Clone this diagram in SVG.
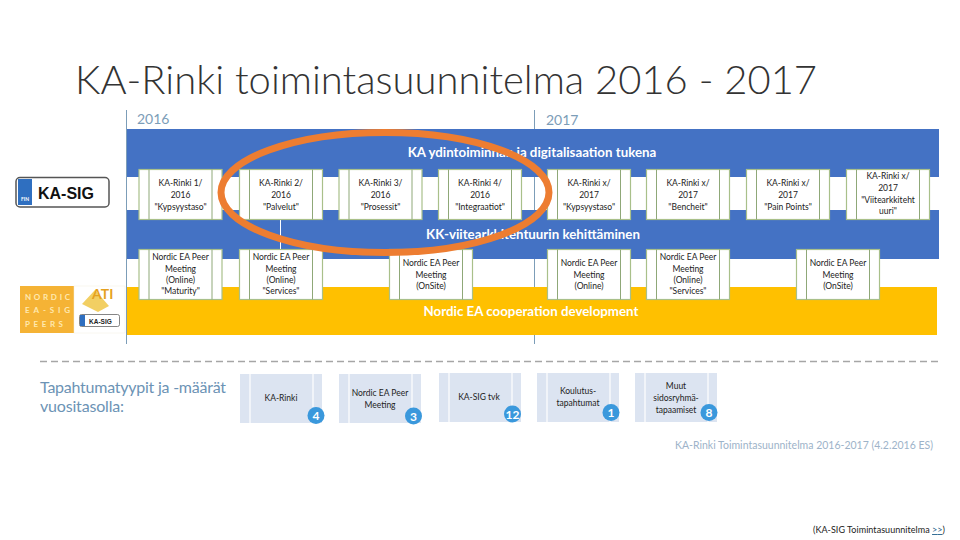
<svg xmlns="http://www.w3.org/2000/svg" width="960" height="540" viewBox="0 0 960 540">
<style>
text{font-family:Lato,"Open Sans","Liberation Sans",sans-serif}
.o{fill:#fff;stroke:#a9c08a;stroke-width:1.2}
.ol{stroke:#8fa878;stroke-width:1}
.c text,.l text{font-size:8.5px;fill:#222;text-anchor:middle}
.lr{fill:#dce4f1}
.ll{stroke:#fff;stroke-width:1.2}
.b{font-size:13.300px;font-weight:700;fill:#fff;text-anchor:middle}
.n circle{fill:#3a98dc}
.n text{font-size:12px;font-weight:700;fill:#fff;text-anchor:middle}
.y{font-size:14px;fill:#7c9db8}
</style>
<defs>
<g id="card"><rect class="o" x="0" y="0" width="83" height="50"/><line class="ol" x1="10" y1="0" x2="10" y2="50"/><line class="ol" x1="73" y1="0" x2="73" y2="50"/></g>
<g id="lcard"><rect class="lr" x="0" y="0" width="82" height="49"/><line class="ll" x1="10" y1="0" x2="10" y2="49"/><line class="ll" x1="73" y1="0" x2="73" y2="49"/></g>
</defs>
<rect width="960" height="540" fill="#fff"/>
<text id="title" x="75" y="94" font-size="38.500" font-weight="300" fill="#333" textLength="742" lengthAdjust="spacingAndGlyphs">KA-Rinki toimintasuunnitelma 2016 - 2017</text>

<g id="bands">
<rect x="126" y="129" width="813" height="130" fill="#4472c4"/>
<rect x="127" y="177" width="812" height="33" fill="#fff"/>
<rect x="126" y="287" width="811" height="48" fill="#ffc000"/>
<text class="b" x="532" y="157">KA ydintoiminnan ja digitalisaation tukena</text>
<text class="b" x="533" y="239">KK-viitearkkitehtuurin kehittäminen</text>
<text class="b" x="531" y="316">Nordic EA cooperation development</text>
</g>

<g id="connectors" stroke="#7c9db8" stroke-width="1" fill="none">
<line x1="126.500" y1="110" x2="126.500" y2="344"/>
<line x1="534.500" y1="110" x2="534.500" y2="129"/>
<line x1="534.500" y1="177" x2="534.500" y2="210"/>
<line x1="534.500" y1="259" x2="534.500" y2="287"/>
<line x1="534.500" y1="335" x2="534.500" y2="344"/>
<line x1="280.500" y1="219" x2="280.500" y2="250" stroke="#fff"/>
</g>
<text id="y2016" class="y" x="137" y="124">2016</text>
<text id="y2017" class="y" x="546" y="125">2017</text>

<g id="logo-kasig">
<rect x="16" y="177.500" width="93" height="29.500" rx="4" fill="#fff" stroke="#555" stroke-width="1.500"/>
<rect x="18" y="179" width="14" height="26" fill="#2f6fc0"/>
<text x="25" y="201" font-size="5" font-weight="700" fill="#fff" text-anchor="middle">FIN</text>
<text x="38" y="199" font-size="16" font-weight="700" fill="#111" style="font-family:'Liberation Sans',sans-serif">KA-SIG</text>
</g>
<g id="logo-nordic">
<rect x="20" y="286" width="54" height="47" fill="#f5b335"/>
<rect x="74" y="286" width="51" height="47" fill="#fff" stroke="#f3ede0" stroke-width="0.500"/>
<text x="25" y="300" font-size="8" font-weight="700" fill="#ffe9b0" textLength="45">NORDIC</text>
<text x="25" y="313" font-size="8" font-weight="700" fill="#ffe9b0" textLength="45">EA-SIG</text>
<text x="25" y="327" font-size="8" font-weight="700" fill="#ffe9b0" textLength="38">PEERS</text>
<polygon points="82,304 95,290 109,306 98,312" fill="#f2cf63"/>
<text x="92" y="299" font-size="14" font-weight="700" fill="#e5a11f">ATI</text>
<rect x="79.500" y="314.500" width="40" height="12" rx="2" fill="#fff" stroke="#666" stroke-width="0.800"/>
<rect x="80" y="315" width="5" height="11" fill="#2f6fc0"/>
<text x="89" y="324" font-size="6.500" font-weight="700" fill="#222" style="font-family:'Liberation Sans',sans-serif">KA-SIG</text>
</g>

<g class="c">
<g id="r1" transform="translate(139,169.500)"><use href="#card"/><text x="41.500" y="16">KA-Rinki 1/</text><text x="41.500" y="28">2016</text><text x="41.500" y="40">"Kypsyystaso"</text></g>
<g id="r2" transform="translate(239.500,169.500)"><use href="#card"/><text x="41.500" y="16">KA-Rinki 2/</text><text x="41.500" y="28">2016</text><text x="41.500" y="40">"Palvelut"</text></g>
<g id="r3" transform="translate(339,169.500)"><use href="#card"/><text x="41.500" y="16">KA-Rinki 3/</text><text x="41.500" y="28">2016</text><text x="41.500" y="40">"Prosessit"</text></g>
<g id="r4" transform="translate(438.500,169.500)"><use href="#card"/><text x="41.500" y="16">KA-Rinki 4/</text><text x="41.500" y="28">2016</text><text x="41.500" y="40">"Integraatiot"</text></g>
<g id="r5" transform="translate(547.500,169.500)"><use href="#card"/><text x="41.500" y="16">KA-Rinki x/</text><text x="41.500" y="28">2017</text><text x="41.500" y="40">"Kypsyystaso"</text></g>
<g id="r6" transform="translate(646.500,169.500)"><use href="#card"/><text x="41.500" y="16">KA-Rinki x/</text><text x="41.500" y="28">2017</text><text x="41.500" y="40">"Bencheit"</text></g>
<g id="r7" transform="translate(746.500,169.500)"><use href="#card"/><text x="41.500" y="16">KA-Rinki x/</text><text x="41.500" y="28">2017</text><text x="41.500" y="40">"Pain Points"</text></g>
<g id="r8" transform="translate(846.500,169.500)"><use href="#card"/><text x="41.500" y="9">KA-Rinki x/</text><text x="41.500" y="21">2017</text><text x="41.500" y="33">"Viitearkkiteht</text><text x="41.500" y="44">uuri"</text></g>
<g id="p1" transform="translate(139,249.500)"><use href="#card"/><text x="41.500" y="10">Nordic EA Peer</text><text x="41.500" y="22">Meeting</text><text x="41.500" y="33">(Online)</text><text x="41.500" y="44">"Maturity"</text></g>
<g id="p2" transform="translate(239.500,249.500)"><use href="#card"/><text x="41.500" y="10">Nordic EA Peer</text><text x="41.500" y="22">Meeting</text><text x="41.500" y="33">(Online)</text><text x="41.500" y="44">"Services"</text></g>
<g id="p3" transform="translate(389.500,249.500)"><use href="#card"/><text x="41.500" y="16">Nordic EA Peer</text><text x="41.500" y="28">Meeting</text><text x="41.500" y="39">(OnSite)</text></g>
<g id="p4" transform="translate(547.500,249.500)"><use href="#card"/><text x="41.500" y="16">Nordic EA Peer</text><text x="41.500" y="28">Meeting</text><text x="41.500" y="39">(Online)</text></g>
<g id="p5" transform="translate(646.500,249.500)"><use href="#card"/><text x="41.500" y="10">Nordic EA Peer</text><text x="41.500" y="22">Meeting</text><text x="41.500" y="33">(Online)</text><text x="41.500" y="44">"Services"</text></g>
<g id="p6" transform="translate(796.500,249.500)"><use href="#card"/><text x="41.500" y="16">Nordic EA Peer</text><text x="41.500" y="28">Meeting</text><text x="41.500" y="39">(OnSite)</text></g>
</g>

<ellipse id="highlight" cx="385" cy="192.500" rx="164" ry="60" fill="none" stroke="#ed7d31" stroke-width="7"/>

<line id="divider" x1="40" y1="361.500" x2="938" y2="361.500" stroke="#a6a6a6" stroke-width="1.300" stroke-dasharray="7 4"/>
<text id="legend-a" x="40" y="393" font-size="16" fill="#6c93b5" textLength="186">Tapahtumatyypit ja -määrät</text>
<text id="legend-b" x="40" y="412" font-size="16" fill="#6c93b5" textLength="84">vuositasolla:</text>

<g class="l">
<g id="l1" transform="translate(240,374)"><use href="#lcard"/><text x="41" y="27">KA-Rinki</text></g>
<g id="l2" transform="translate(339,374)"><use href="#lcard"/><text x="41" y="22">Nordic EA Peer</text><text x="41" y="34">Meeting</text></g>
<g id="l3" transform="translate(439,373)"><use href="#lcard"/><text x="40" y="27">KA-SIG tvk</text></g>
<g id="l4" transform="translate(537,373)"><use href="#lcard"/><text x="41" y="21">Koulutus-</text><text x="41" y="33">tapahtumat</text></g>
<g id="l5" transform="translate(635,373)"><use href="#lcard"/><text x="41" y="16">Muut</text><text x="41" y="28">sidosryhmä-</text><text x="41" y="40">tapaamiset</text></g>
</g>
<g class="n">
<g id="b1"><circle cx="316" cy="415.500" r="8.500"/><text x="316" y="420">4</text></g>
<g id="b2"><circle cx="413.500" cy="416" r="8.500"/><text x="413.500" y="420.500">3</text></g>
<g id="b3"><circle cx="512.500" cy="414" r="8.500"/><text x="512.500" y="418.500">12</text></g>
<g id="b4"><circle cx="611" cy="412.500" r="8.500"/><text x="611" y="417">1</text></g>
<g id="b5"><circle cx="709" cy="412.500" r="8.500"/><text x="709" y="417">8</text></g>
</g>

<text id="source" x="675" y="449" font-size="10.500" fill="#9db3c9" textLength="258">KA-Rinki Toimintasuunnitelma 2016-2017 (4.2.2016 ES)</text>
<text id="footer" x="813" y="533" font-size="9" fill="#222" textLength="132">(KA-SIG Toimintasuunnitelma <tspan fill="#1f5f8b" text-decoration="underline">&gt;&gt;</tspan>)</text>
</svg>
